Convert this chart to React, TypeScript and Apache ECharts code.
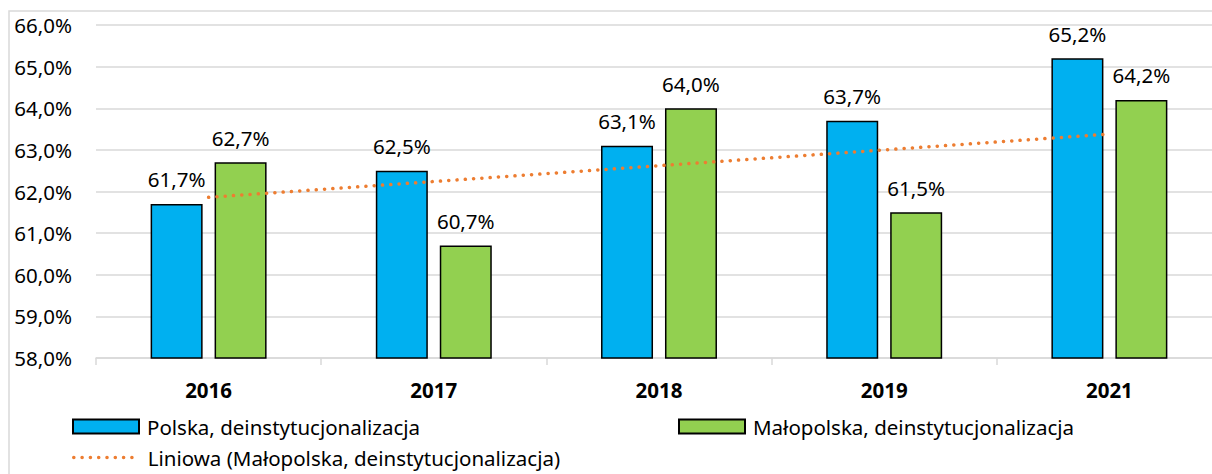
import React, { useEffect, useRef } from "react";
import * as echarts from "echarts";

const categories = ["2016", "2017", "2018", "2019", "2021"];
const polska = [61.7, 62.5, 63.1, 63.7, 65.2];
const malopolska = [62.7, 60.7, 64.0, 61.5, 64.2];
const seriesNames = [
  "Polska, deinstytucjonalizacja",
  "Małopolska, deinstytucjonalizacja",
  "Liniowa (Małopolska, deinstytucjonalizacja)",
];

// Linear trend (least squares) of the Małopolska series, as Excel draws it
function linearTrend(ys: number[]): number[] {
  const n = ys.length;
  const xs = ys.map((_, i) => i + 1);
  const mx = xs.reduce((a, b) => a + b, 0) / n;
  const my = ys.reduce((a, b) => a + b, 0) / n;
  let num = 0;
  let den = 0;
  for (let i = 0; i < n; i++) {
    num += (xs[i] - mx) * (ys[i] - my);
    den += (xs[i] - mx) * (xs[i] - mx);
  }
  const slope = num / den;
  return xs.map((x) => my + slope * (x - mx));
}
const trend = linearTrend(malopolska);

const FONT = "'Noto Sans', sans-serif";
const FS = 20.5;
const fmt = (v: number) => v.toFixed(1).replace(".", ",") + "%";

export default function App() {
  const ref = useRef<HTMLDivElement>(null);
  useEffect(() => {
    if (!ref.current) return;
    const chart = echarts.init(ref.current, null, { renderer: "svg" });
    const labelCfg = {
      show: true,
      position: "top",
      distance: 14,
      color: "#000",
      fontSize: FS,
      fontFamily: FONT,
      formatter: (p: any) => fmt(p.value),
    };
    const legendText = { fontSize: FS, color: "#000", fontFamily: FONT, padding: [0, 0, 0, 3] };
    const trendLine = { color: "#ED7D31", width: 3.5, type: [0.1, 8.2], cap: "round" };
    chart.setOption({
      animation: false,
      backgroundColor: "#fff",
      textStyle: { fontFamily: FONT },
      graphic: [
        {
          type: "rect",
          shape: { x: 9, y: 11, width: 1260, height: 500 },
          style: { fill: "none", stroke: "#d9d9d9", lineWidth: 1.5 },
          silent: true,
          z: -10,
        },
      ],
      grid: { left: 96, top: 25, width: 1126, height: 333 },
      legend: [
        {
          left: 72,
          top: 416,
          padding: 0,
          icon: "rect",
          itemWidth: 66,
          itemHeight: 14,
          data: [seriesNames[0]],
          textStyle: legendText,
        },
        {
          left: 678,
          top: 416,
          padding: 0,
          icon: "rect",
          itemWidth: 66,
          itemHeight: 14,
          data: [seriesNames[1]],
          textStyle: legendText,
        },
        {
          left: 72,
          top: 447,
          padding: 0,
          itemWidth: 66,
          itemHeight: 14,
          data: [seriesNames[2]],
          itemStyle: { opacity: 0 },
          lineStyle: trendLine,
          textStyle: legendText,
        },
      ],
      xAxis: {
        type: "category",
        data: categories,
        axisLine: { lineStyle: { color: "#d9d9d9", width: 1.5 } },
        axisTick: { show: true, length: 7, lineStyle: { color: "#d9d9d9", width: 1.5 } },
        axisLabel: {
          margin: 21,
          fontSize: FS,
          fontWeight: "bold",
          color: "#000",
          fontFamily: FONT,
        },
      },
      yAxis: {
        type: "value",
        min: 58,
        max: 66,
        interval: 1,
        axisLine: { show: false },
        axisTick: { show: false },
        splitLine: { lineStyle: { color: "#d9d9d9", width: 1.5 } },
        axisLabel: {
          margin: 24,
          fontSize: FS,
          color: "#000",
          fontFamily: FONT,
          formatter: (v: number) => fmt(v),
        },
      },
      series: [
        {
          name: seriesNames[0],
          type: "bar",
          data: polska,
          barWidth: 52,
          barGap: "23%",
          itemStyle: { color: "#00B0F0", borderColor: "#000", borderWidth: 1.5 },
          label: labelCfg,
        },
        {
          name: seriesNames[1],
          type: "bar",
          data: malopolska,
          barWidth: 52,
          barGap: "23%",
          itemStyle: { color: "#92D050", borderColor: "#000", borderWidth: 1.5 },
          label: labelCfg,
        },
        {
          name: seriesNames[2],
          type: "line",
          data: trend,
          symbol: "none",
          z: 5,
          itemStyle: { color: "#ED7D31" },
          lineStyle: trendLine,
        },
      ],
    });
    return () => chart.dispose();
  }, []);
  return (
    <div
      style={{
        position: "absolute",
        left: 0,
        top: 0,
        width: 1212,
        height: 474,
        overflow: "hidden",
        background: "#fff",
      }}
    >
      <div ref={ref} style={{ width: 1240, height: 474 }} />
    </div>
  );
}
